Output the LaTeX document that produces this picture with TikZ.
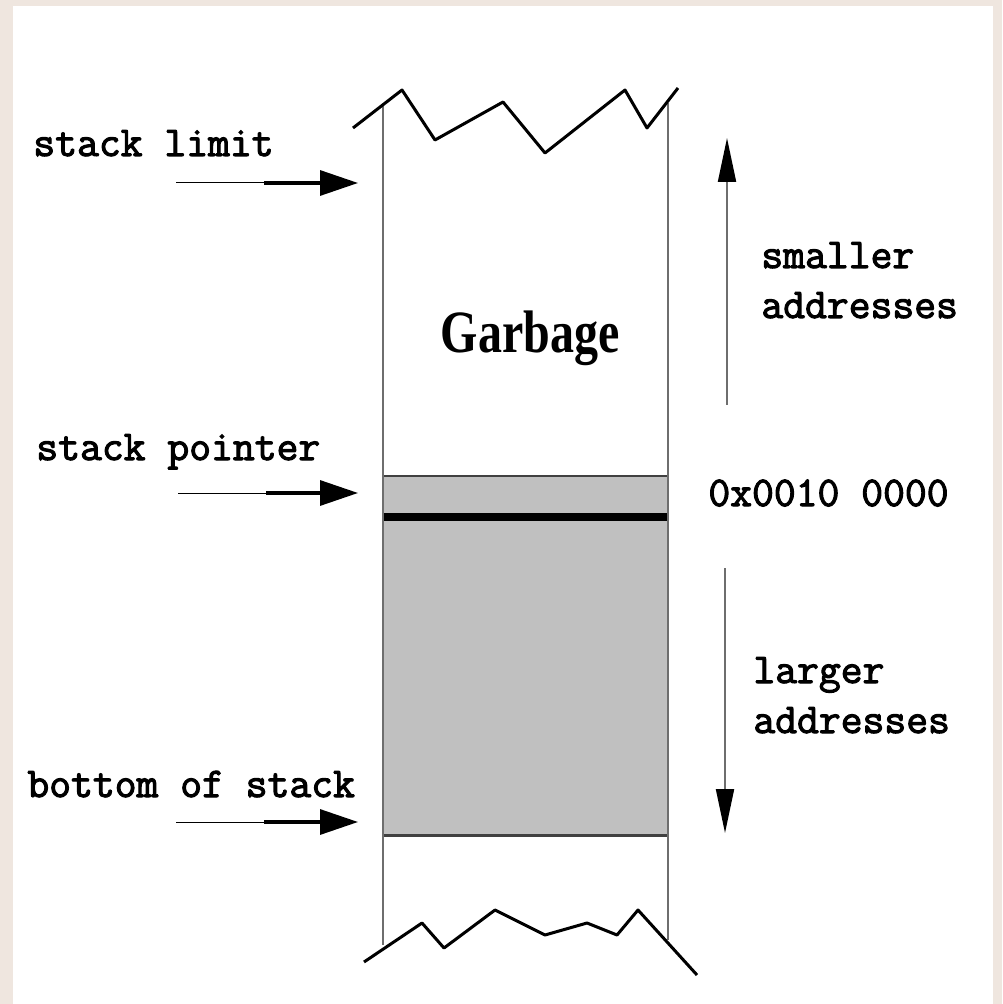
\documentclass[tikz,border=0pt]{standalone}
\usepackage{fontspec}
\setmainfont{Liberation Serif}
\newfontfamily\codefont{Latin Modern Mono}[FakeBold=2.5]
\usetikzlibrary{arrows.meta}
\definecolor{frame}{HTML}{EFE6DF}
\definecolor{stackgray}{HTML}{C0C0C0}
\definecolor{wallgray}{HTML}{6E6E6E}
\tikzset{
  codelabel/.style={inner sep=0pt, font=\codefont\bfseries\fontsize{21.2}{25}\selectfont, align=left},
  wall/.style={draw=wallgray, line width=1pt},
  zigzag/.style={draw=black, line width=1.5pt, line join=round},
  pointer/.style={draw=black, line width=0.5pt},
  pointerhead/.style={draw=black, line width=1.6pt, -{Triangle[length=19pt,width=12.5pt]}},
  direction/.style={draw=wallgray, line width=1pt, -{Triangle[length=22pt,width=9pt,color=black]}}
}
\begin{document}
\begin{tikzpicture}[x=0.5pt, y=-0.5pt]
  % page frame
  \fill[frame] (0,0) rectangle (1002,1004);
  \fill[white] (13,6) rectangle (993,1004);
  \useasboundingbox (0,0) rectangle (1002,1004);

  % stack contents: grey used part below the stack pointer
  \fill[stackgray] (383,476) rectangle (668,835);
  \draw[draw=black!75, line width=1pt] (383,476) -- (668,476);
  \draw[draw=black, line width=4pt] (383,517) -- (668,517);
  \draw[draw=black!75, line width=1.5pt] (383,835) -- (668,835);

  % side walls of the stack
  \draw[wall] (383,105) -- (383,945);
  \draw[wall] (668,103) -- (668,940);

  % torn edges at top and bottom
  \draw[zigzag] (353,128) -- (402,90) -- (435,140) -- (503,102) -- (545,153)
    -- (625,90) -- (647,128) -- (678,88);
  \draw[zigzag] (364,962) -- (422,923) -- (444,948) -- (495,910) -- (545,935)
    -- (587,923) -- (617,935) -- (638,910) -- (697,975);

  % contents label
  \node[anchor=base, inner sep=0pt, font=\bfseries\fontsize{30}{30}\selectfont] (garbage) at (530,353)
    {\scalebox{0.8}[1]{Garbage}};

  % pointer labels on the left
  \node[codelabel, anchor=base west] (limit) at (33,156) {stack limit};
  \node[codelabel, anchor=base west] (sp) at (36,460) {stack pointer};
  \node[codelabel, anchor=base west] (bottom) at (27,797) {bottom of stack};

  % pointer arrows
  \coordinate (limitA) at (176,183);  \coordinate (limitB) at (264,183);  \coordinate (limitC) at (358,183);
  \coordinate (spA) at (178,493);     \coordinate (spB) at (266,493);     \coordinate (spC) at (358,493);
  \coordinate (botA) at (176,822);    \coordinate (botB) at (264,822);    \coordinate (botC) at (358,822);
  \draw[pointer] (limitA) -- (limitB);  \draw[pointerhead] (limitB) -- (limitC);
  \draw[pointer] (spA) -- (spB);        \draw[pointerhead] (spB) -- (spC);
  \draw[pointer] (botA) -- (botB);      \draw[pointerhead] (botB) -- (botC);

  % address directions on the right
  \coordinate (upFrom) at (727,405);  \coordinate (upTo) at (727,138);
  \coordinate (downFrom) at (725,568); \coordinate (downTo) at (725,833);
  \draw[direction] (upFrom) -- (upTo);
  \draw[direction] (downFrom) -- (downTo);

  \node[codelabel, anchor=base west] (smaller) at (761,318) {smaller\\addresses};
  \node[codelabel, anchor=base west] (address) at (708,506) {0x0010 0000};
  \node[codelabel, anchor=base west] (larger) at (753,733) {larger\\addresses};
\end{tikzpicture}
\end{document}
